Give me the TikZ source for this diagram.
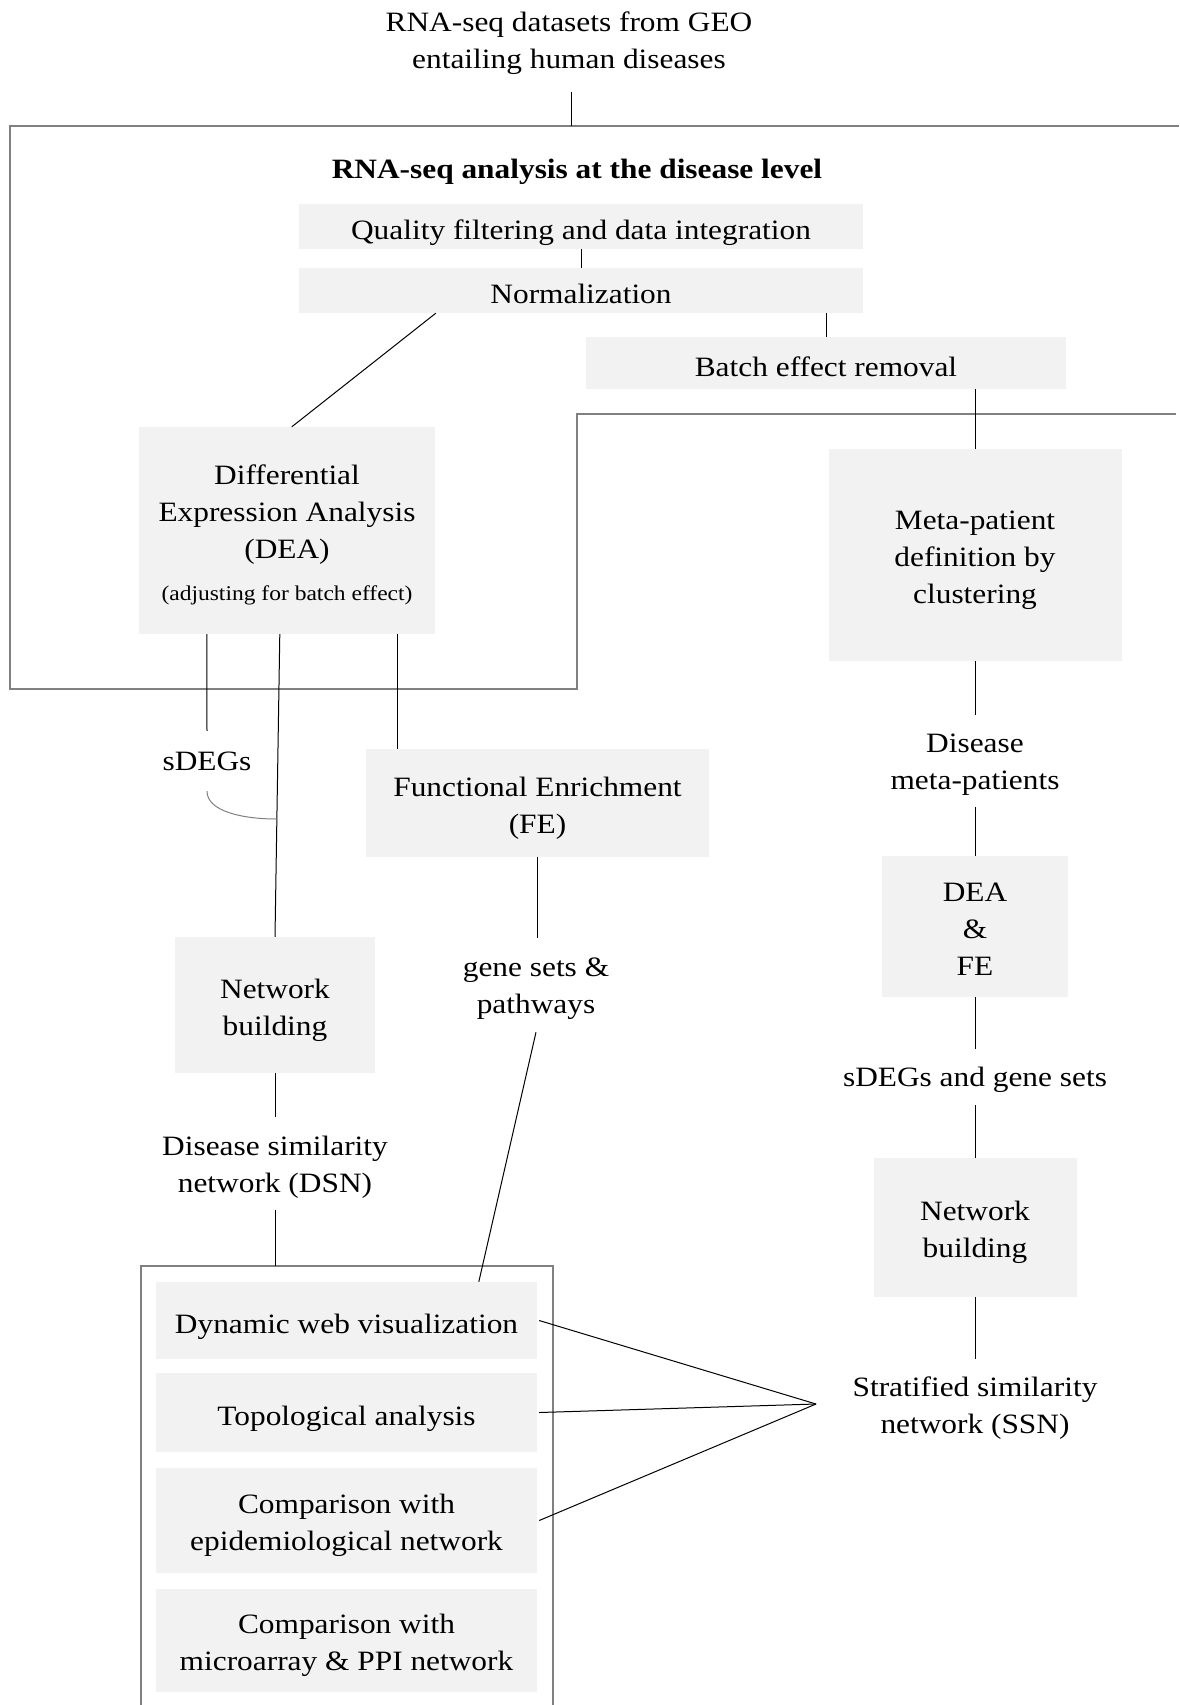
\documentclass[tikz,border=0pt]{standalone}
\usepackage{fontspec}
\setmainfont{Liberation Serif}[FakeStretch=1.12]
\newcommand\fsz{\fontsize{28}{37}\selectfont}
\newcommand\fsmall{\fontsize{21}{26}\selectfont}
\newcommand\gA{\rule{0pt}{30pt}}
\newcommand\tA{\rule{0pt}{26.5pt}}
\newcommand\zB{\rule[-6.5pt]{0pt}{6.5pt}}
\tikzset{
  gbox/.style={fill=black!5, inner sep=0pt, align=center, font=\fsz,
    execute at begin node={\rule{0pt}{32.5pt}}, execute at end node={\zB}},
  txt/.style={inner sep=0pt, align=center, font=\fsz,
    execute at begin node={\rule{0pt}{24.5pt}}, execute at end node={\zB}},
  conn/.style={line width=1pt, draw=black},
  outl/.style={line width=2pt, draw=black!50},
}
\begin{document}
\begin{tikzpicture}[x=1pt,y=-1pt]
\useasboundingbox (0,0) rectangle (1179,1705);
% text nodes and boxes
\node[txt, minimum height=104pt] (top) at (569,40) {\tA RNA-seq datasets from GEO\\entailing human diseases\zB};
\node[txt, font=\fsz\bfseries] (title) at (577,169) {RNA-seq analysis at the disease level};
\node[gbox, minimum width=564pt, minimum height=45pt] (qf) at (581,226.5) {Quality filtering and data integration};
\node[gbox, minimum width=564pt, minimum height=45pt] (norm) at (581,290.5) {Normalization};
\node[gbox, minimum width=480pt, minimum height=52pt] (batch) at (826,363) {Batch effect removal};
\node[gbox, minimum width=296pt, minimum height=207pt] (dea) at (287,530.5) {\gA Differential\\Expression Analysis\\(DEA)\\[5pt]{\fsmall (adjusting for batch effect)}\zB};
\node[gbox, minimum width=293pt, minimum height=212pt] (meta) at (975,555) {\gA Meta-patient\\definition by\\clustering\zB};
\node[txt, minimum height=60pt] (sdegs) at (207,761) {sDEGs};
\node[gbox, minimum width=343pt, minimum height=108pt] (fe) at (537.5,803) {\gA Functional Enrichment\\(FE)\zB};
\node[txt, minimum height=92pt] (dmp) at (975,761) {\tA Disease\\meta-patients\zB};
\node[gbox, minimum width=186pt, minimum height=141pt] (deafe) at (975,926.5) {\gA DEA\\\&\\FE\zB};
\node[gbox, minimum width=200pt, minimum height=136pt] (netl) at (275,1005) {\gA Network\\building\zB};
\node[txt, minimum height=94pt] (genes) at (536,985) {\tA gene sets \&\\pathways\zB};
\node[txt, minimum height=56pt] (sdgs) at (975,1077) {sDEGs and gene sets};
\node[gbox, minimum width=203pt, minimum height=139pt] (netr) at (975,1227.5) {\gA Network\\building\zB};
\node[txt, minimum height=93pt] (dsn) at (275,1163.5) {\tA Disease similarity\\network (DSN)\zB};
\node[txt, minimum height=92pt] (ssn) at (975,1405) {\tA Stratified similarity\\network (SSN)\zB};
\node[gbox, minimum width=381pt, minimum height=77pt] (dyn) at (346.5,1320.5) {Dynamic web visualization};
\node[gbox, minimum width=381pt, minimum height=79pt] (topo) at (346.5,1412.5) {Topological analysis};
\node[gbox, minimum width=381pt, minimum height=105pt] (epi) at (346.5,1520.5) {\gA Comparison with\\epidemiological network\zB};
\node[gbox, minimum width=381pt, minimum height=103pt] (micro) at (346.5,1640.5) {\gA Comparison with\\microarray \& PPI network\zB};
% coordinates
\coordinate (otop) at (571,126);
\coordinate (arcend) at (277,819);
\coordinate (apex) at (816,1404);
\coordinate (btop) at (275,1266);
% outlines
\draw[outl] (1179,126) -- (10,126) -- (10,689) -- (577,689) -- (577,414) -- (1176,414);
\draw[outl] (141,1712) -- (141,1266) -- (553,1266) -- (553,1712);
% connectors
\draw[conn] (top.south -| otop) -- (otop);
\draw[conn] (qf.south) -- (norm.north);
\draw[conn] ([xshift=137pt]norm.south west) -- ([xshift=153pt]dea.north west);
\draw[conn] ([xshift=241pt]batch.north west |- norm.south) -- ([xshift=241pt]batch.north west);
\draw[conn] (batch.south -| meta.north) -- (meta.north);
\draw[conn] ([xshift=68pt]dea.south west) -- (sdegs.north);
\draw[conn] ([xshift=141pt]dea.south west) -- (netl.north);
\draw[conn] ([xshift=259pt]dea.south west) -- ([xshift=259pt]dea.south west |- fe.north);
\draw[line width=1pt, draw=black!50] (sdegs.south) .. controls +(0,20) and +(-35,0) .. (arcend);
\draw[conn] (fe.south) -- (fe.south |- genes.north);
\draw[conn] (genes.south) -- ([xshift=323pt]dyn.north west);
\draw[conn] (netl.south) -- (dsn.north);
\draw[conn] (dsn.south) -- (btop);
\draw[conn] (meta.south) -- (dmp.north);
\draw[conn] (dmp.south) -- (deafe.north);
\draw[conn] (deafe.south) -- (sdgs.north);
\draw[conn] (sdgs.south) -- (netr.north);
\draw[conn] (netr.south) -- (ssn.north);
\draw[conn] ([xshift=2pt]dyn.east) -- (apex);
\draw[conn] ([xshift=2pt]topo.east) -- (apex);
\draw[conn] ([xshift=2pt]epi.east) -- (apex);
\end{tikzpicture}
\end{document}
